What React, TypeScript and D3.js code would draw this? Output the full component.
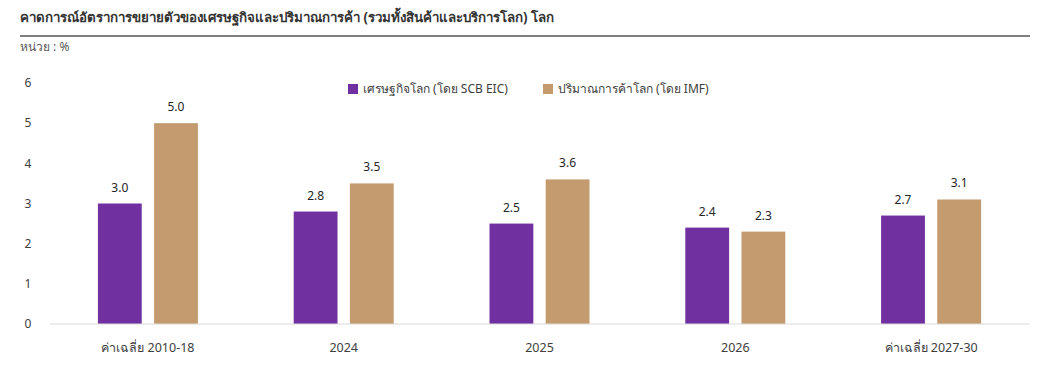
import React from "react";
import * as d3 from "d3";

const categories = ["ค่าเฉลี่ย 2010-18", "2024", "2025", "2026", "ค่าเฉลี่ย 2027-30"];
const seriesNames = ["เศรษฐกิจโลก (โดย SCB EIC)", "ปริมาณการค้าโลก (โดย IMF)"];
const economyValues = [3.0, 2.8, 2.5, 2.4, 2.7];
const tradeValues = [5.0, 3.5, 3.6, 2.3, 3.1];
const yTicks = [0, 1, 2, 3, 4, 5, 6];
const colors = ["#7030A0", "#C49A6F"];

const W = 1052;
const H = 377;
const FONT = "'Noto Sans', 'DejaVu Sans', sans-serif";

export default function App() {
  const plotLeft = 50;
  const plotRight = 1029;
  const yBase = 324;
  const yTop = 83;

  const x = d3.scaleBand<string>().domain(categories).range([plotLeft, plotRight]);
  const inner = d3.scaleBand<number>().domain([0, 1]).range([-50, 50]).paddingInner(0.22);
  const y = d3.scaleLinear().domain([0, 6]).range([yBase, yTop]);
  const series = [economyValues, tradeValues];

  return (
    <div style={{ position: "absolute", left: 0, top: 0 }}>
      <svg width={W} height={H} style={{ display: "block", fontFamily: FONT }}>
        <rect x={0} y={0} width={W} height={H} fill="#fff" />
        <text x={20} y={22} fontSize={13.3} fontWeight="bold" fill="#333">
          คาดการณ์อัตราการขยายตัวของเศรษฐกิจและปริมาณการค้า (รวมทั้งสินค้าและบริการโลก) โลก
        </text>
        <line x1={20} x2={1030} y1={36} y2={36} stroke="#7f7f7f" strokeWidth={2} />
        <text x={20} y={51} fontSize={12} fill="#595959">หน่วย : %</text>

        {yTicks.map((t) => (
          <text key={t} x={28} y={y(t)} dy="0.35em" fontSize={12} fill="#404040" textAnchor="middle">
            {t}
          </text>
        ))}

        {series.map((vals, si) =>
          vals.map((v, i) => {
            const bx = (x(categories[i]) as number) + x.bandwidth() / 2 + (inner(si) as number);
            return (
              <g key={`${si}-${i}`}>
                <rect x={bx} y={y(v)} width={inner.bandwidth()} height={yBase - y(v)} fill={colors[si]} />
                <text
                  x={bx + inner.bandwidth() / 2}
                  y={y(v) - 12}
                  fontSize={12}
                  fill="#262626"
                  textAnchor="middle"
                >
                  {v.toFixed(1)}
                </text>
              </g>
            );
          })
        )}

        <line x1={plotLeft} x2={plotRight} y1={yBase} y2={yBase} stroke="#d9d9d9" strokeWidth={1} />

        {categories.map((c) => (
          <text
            key={c}
            x={(x(c) as number) + x.bandwidth() / 2}
            y={352}
            fontSize={12.5}
            fill="#404040"
            textAnchor="middle"
          >
            {c}
          </text>
        ))}

        {seriesNames.map((n, i) => {
          const lx = i === 0 ? 348 : 543;
          return (
            <g key={n}>
              <rect x={lx} y={84} width={10} height={10} fill={colors[i]} />
              <text x={lx + 15} y={89} dy="0.35em" fontSize={12} fill="#404040">
                {n}
              </text>
            </g>
          );
        })}
      </svg>
    </div>
  );
}
